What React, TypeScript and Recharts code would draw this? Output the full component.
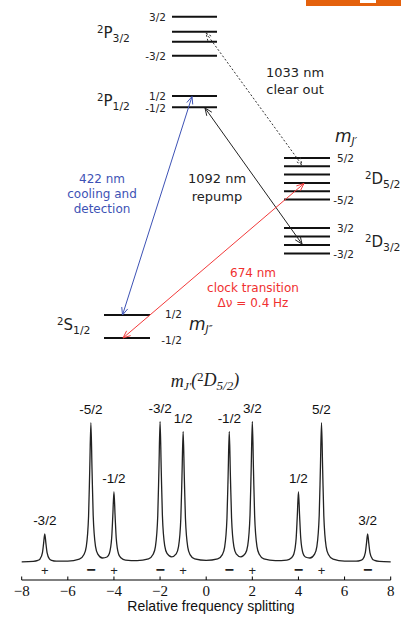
import React from 'react';
import { ComposedChart, Line, Scatter, XAxis, YAxis } from 'recharts';

// level diagram, drawn in a 401 x 360 box (y grows downward)
const p32Levels = [16.7, 31.7, 41.7, 55.7];
const p12Levels = [96, 107.3];
const d52Levels = [158, 166.3, 174.6, 183, 191.3, 199.6];
const d32Levels = [228, 236.5, 245, 253.5];
const s12Levels = [315, 338];

const pSpan = [172, 217];
const dSpan = [284, 330];
const sSpan = [104, 150];

const transitions = [
  { id: '422', from: [122.5, 315], to: [192, 96.5], color: '#3d52b5', dash: undefined },
  { id: '1092', from: [205, 108], to: [302, 244], color: '#222', dash: undefined },
  { id: '674', from: [123, 338], to: [304, 183.5], color: '#f23a3a', dash: undefined },
  { id: '1033', from: [206, 33], to: [302, 165], color: '#333', dash: '2 2' },
];

// spectrum: relative frequency vs signal
const curve: [number, number][] = [
  [-8, 0.2], [-7.5, 0.6], [-7.3, 1.6], [-7.2, 3.2], [-7.1, 9.4], [-7.05, 18.6], [-7, 28.2],
  [-6.95, 18.6], [-6.9, 9.4], [-6.8, 3.2], [-6.7, 1.7], [-6.5, 0.9], [-6, 0.9], [-5.5, 2.8],
  [-5.3, 7.5], [-5.2, 15.4], [-5.1, 46], [-5.05, 92], [-5, 139.3], [-4.95, 92], [-4.9, 46.4],
  [-4.8, 15.7], [-4.7, 7.9], [-4.5, 4], [-4.3, 5], [-4.2, 8.5], [-4.1, 23.7], [-4.05, 46],
  [-4, 70.3], [-3.95, 46], [-3.9, 23.5], [-3.8, 8], [-3.7, 4.2], [-3.5, 1.9], [-3, 1.4],
  [-2.5, 3.1], [-2.3, 7.7], [-2.2, 15.7], [-2.1, 46.6], [-2.05, 92.4], [-2, 140.5],
  [-1.95, 92.5], [-1.9, 47], [-1.8, 16.3], [-1.7, 8.6], [-1.5, 5.2], [-1.3, 8.2], [-1.2, 15.3],
  [-1.1, 43.8], [-1.05, 85.8], [-1, 130.5], [-0.95, 85.8], [-0.9, 43.7], [-0.8, 14.9],
  [-0.7, 7.4], [-0.5, 3.1], [0, 1.6], [0.5, 3.1], [0.7, 7.4], [0.8, 14.9], [0.9, 43.7],
  [0.95, 85.8], [1, 130.5], [1.05, 85.8], [1.1, 43.8], [1.2, 15.3], [1.3, 8.2], [1.5, 5.2],
  [1.7, 8.6], [1.8, 16.3], [1.9, 47], [1.95, 92.5], [2, 140.5], [2.05, 92.4], [2.1, 46.6],
  [2.2, 15.7], [2.3, 7.7], [2.5, 3.1], [3, 1.4], [3.5, 1.9], [3.7, 4.2], [3.8, 8], [3.9, 23.5],
  [3.95, 46], [4, 70.3], [4.05, 46], [4.1, 23.7], [4.2, 8.5], [4.3, 5], [4.5, 4], [4.7, 7.9],
  [4.8, 15.7], [4.9, 46.4], [4.95, 92], [5, 139.3], [5.05, 92], [5.1, 46], [5.2, 15.4],
  [5.3, 7.5], [5.5, 2.8], [6, 0.9], [6.5, 0.9], [6.7, 1.7], [6.8, 3.2], [6.9, 9.4],
  [6.95, 18.6], [7, 28.2], [7.05, 18.6], [7.1, 9.4], [7.2, 3.2], [7.3, 1.6], [7.5, 0.6], [8, 0.2],
];

const peakPos = [-7, -5, -4, -2, -1, 1, 2, 4, 5, 7];
const peakHeight = [28.2, 139.3, 70.3, 140.5, 130.5, 130.5, 140.5, 70.3, 139.3, 28.2];
const peakLabels = ['-3/2', '-5/2', '-1/2', '-3/2', '1/2', '-1/2', '3/2', '1/2', '5/2', '3/2'];
const peakSigns = ['+', '−', '+', '−', '+', '−', '+', '−', '+', '−'];
const xTicks = [-8, -6, -4, -2, 0, 2, 4, 6, 8];

const curveData = curve.map(([x, y]) => ({ x, y }));
const peakData = peakPos.map((x, i) => ({ x, y: peakHeight[i], label: peakLabels[i] }));
const signData = peakPos.map((x, i) => ({ x, y: -8, sign: peakSigns[i] }));

function arrowHead(tip: number[], tail: number[], len = 8, ang = 0.4) {
  const dx = tail[0] - tip[0];
  const dy = tail[1] - tip[1];
  const d = Math.hypot(dx, dy);
  const ux = dx / d, uy = dy / d;
  const wing = (a: number) => ({
    x: tip[0] + len * (ux * Math.cos(a) - uy * Math.sin(a)),
    y: tip[1] + len * (ux * Math.sin(a) + uy * Math.cos(a)),
  });
  return [wing(ang), { x: tip[0], y: tip[1] }, wing(-ang)];
}

const levelLines = [
  ...p32Levels.map((y) => ({ y, span: pSpan })),
  ...p12Levels.map((y) => ({ y, span: pSpan })),
  ...d52Levels.map((y) => ({ y, span: dSpan })),
  ...d32Levels.map((y) => ({ y, span: dSpan })),
  ...s12Levels.map((y) => ({ y, span: sSpan })),
];

const Txt = ({ x, y, a = 'c', size = 13, color = '#222', italic = false, font = 'DejaVu Sans', children }: any) => {
  const tx = a === 'c' ? '-50%' : a === 'r' ? '-100%' : '0';
  return (
    <div
      style={{
        position: 'absolute', left: x, top: y, transform: `translate(${tx}, -50%)`,
        fontSize: size, color, fontStyle: italic ? 'italic' : 'normal', fontFamily: font,
        lineHeight: 1, whiteSpace: 'nowrap',
      }}
    >
      {children}
    </div>
  );
};

const Term = ({ l, j }: { l: string; j: string }) => (
  <span>
    <span style={{ fontSize: '0.68em', verticalAlign: '0.5em' }}>2</span>
    {l}
    <span style={{ fontSize: '0.72em', verticalAlign: '-0.32em' }}>{j}</span>
  </span>
);

const MJ = ({ primes }: { primes: string }) => (
  <span>
    m<span style={{ fontSize: '0.62em', verticalAlign: '-0.3em' }}>J{primes}</span>
  </span>
);

const AxisTick = ({ x, y, payload }: any) => (
  <g>
    <line x1={x} x2={x} y1={y} y2={y - 3.5} stroke="#000" strokeWidth={1} />
    <text x={x} y={y + 16} textAnchor="middle" fontFamily="Liberation Serif" fontSize={15} fill="#111">
      {String(payload.value).replace('-', '−')}
    </text>
  </g>
);

export default function App() {
  return (
    <div style={{ position: 'absolute', left: 0, top: 0, width: 401, height: 620, background: '#fff', overflow: 'hidden', fontFamily: 'DejaVu Sans' }}>
      <div style={{ position: 'absolute', left: 306, top: 0, width: 95, height: 6, background: '#e4610d' }} />
      <div style={{ position: 'absolute', left: 360, top: 0, width: 16, height: 3, background: '#fff' }} />

      <div style={{ position: 'absolute', left: 0, top: 0 }}>
        <ComposedChart width={401} height={360} margin={{ top: 0, right: 0, bottom: 0, left: 0 }}>
          <XAxis type="number" dataKey="x" domain={[0, 401]} allowDataOverflow hide />
          <YAxis type="number" domain={[0, 360]} reversed allowDataOverflow hide />
          {levelLines.map((lv, i) => (
            <Line
              key={`lv-${i}`}
              data={[{ x: lv.span[0], y: lv.y }, { x: lv.span[1], y: lv.y }]}
              dataKey="y"
              type="linear"
              stroke="#111"
              strokeWidth={2}
              dot={false}
              activeDot={false}
              isAnimationActive={false}
            />
          ))}
          {transitions.map((t) => (
            <Line
              key={`tr-${t.id}`}
              data={[{ x: t.from[0], y: t.from[1] }, { x: t.to[0], y: t.to[1] }]}
              dataKey="y"
              type="linear"
              stroke={t.color}
              strokeWidth={1}
              strokeDasharray={t.dash}
              dot={false}
              activeDot={false}
              isAnimationActive={false}
            />
          ))}
          {transitions.flatMap((t) => [
            <Line
              key={`ha-${t.id}`}
              data={arrowHead(t.to, t.from)}
              dataKey="y"
              type="linear"
              stroke={t.color}
              strokeWidth={1}
              strokeDasharray={t.dash}
              dot={false}
              activeDot={false}
              isAnimationActive={false}
            />,
            <Line
              key={`hb-${t.id}`}
              data={arrowHead(t.from, t.to)}
              dataKey="y"
              type="linear"
              stroke={t.color}
              strokeWidth={1}
              strokeDasharray={t.dash}
              dot={false}
              activeDot={false}
              isAnimationActive={false}
            />,
          ])}
        </ComposedChart>
      </div>

      {/* level labels */}
      <Txt x={166} y={16.7} a="r" size={10.5}>3/2</Txt>
      <Txt x={166} y={55.7} a="r" size={10.5}>-3/2</Txt>
      <Txt x={166} y={95.5} a="r" size={10.5}>1/2</Txt>
      <Txt x={166} y={107.5} a="r" size={10.5}>-1/2</Txt>
      <Txt x={354} y={158} a="r" size={10.5}>5/2</Txt>
      <Txt x={354} y={200} a="r" size={10.5}>-5/2</Txt>
      <Txt x={354} y={228} a="r" size={10.5}>3/2</Txt>
      <Txt x={354} y={254} a="r" size={10.5}>-3/2</Txt>
      <Txt x={182} y={314} a="r" size={10.5}>1/2</Txt>
      <Txt x={182} y={340} a="r" size={10.5}>-1/2</Txt>

      <Txt x={97} y={35} a="l" size={15}><Term l="P" j="3/2" /></Txt>
      <Txt x={97} y={103} a="l" size={15}><Term l="P" j="1/2" /></Txt>
      <Txt x={365} y={181} a="l" size={15}><Term l="D" j="5/2" /></Txt>
      <Txt x={365} y={244} a="l" size={15}><Term l="D" j="3/2" /></Txt>
      <Txt x={57} y={327} a="l" size={15}><Term l="S" j="1/2" /></Txt>
      <Txt x={335} y={137} a="l" size={17} italic><MJ primes="′" /></Txt>
      <Txt x={189} y={325} a="l" size={17} italic><MJ primes="″" /></Txt>

      <Txt x={295} y={72}>1033 nm</Txt>
      <Txt x={295} y={89}>clear out</Txt>
      <Txt x={217} y={178}>1092 nm</Txt>
      <Txt x={217} y={196}>repump</Txt>
      <Txt x={102} y={179} size={12} color="#3d52b5">422 nm</Txt>
      <Txt x={102} y={194} size={12} color="#3d52b5">cooling and</Txt>
      <Txt x={102} y={208.5} size={12} color="#3d52b5">detection</Txt>
      <Txt x={253} y={273} size={12} color="#f03030">674 nm</Txt>
      <Txt x={253} y={288} size={12} color="#f03030">clock transition</Txt>
      <Txt x={253} y={303} size={12} color="#f03030">Δν = 0.4 Hz</Txt>

      {/* spectrum */}
      <Txt x={205} y={382} size={18} italic font="Liberation Serif">
        <MJ primes="′" />(<span style={{ fontSize: '0.7em', verticalAlign: '0.45em', fontStyle: 'normal' }}>2</span>D
        <span style={{ fontSize: '0.72em', verticalAlign: '-0.3em' }}>5/2</span>)
      </Txt>

      <div style={{ position: 'absolute', left: 0, top: 360 }}>
        <ComposedChart width={401} height={260} margin={{ top: 12, right: 10.3, bottom: 0, left: 21.7 }}>
          <XAxis
            type="number"
            dataKey="x"
            domain={[-8, 8]}
            ticks={xTicks}
            height={40}
            tickSize={0}
            tickMargin={0}
            tickLine={false}
            axisLine={{ stroke: '#000', strokeWidth: 1 }}
            tick={<AxisTick />}
            interval={0}
          />
          <YAxis type="number" domain={[-18, 190]} hide />
          <Line
            data={curveData}
            dataKey="y"
            type="monotone"
            stroke="#222"
            strokeWidth={1.3}
            dot={false}
            activeDot={false}
            isAnimationActive={false}
          />
          <Scatter
            data={peakData}
            dataKey="y"
            isAnimationActive={false}
            shape={(p: any) => (
              <text x={p.cx} y={p.cy - 9} textAnchor="middle" fontFamily="Liberation Sans" fontSize={13.5} fill="#111">
                {p.payload.label}
              </text>
            )}
          />
          <Scatter
            data={signData}
            dataKey="y"
            isAnimationActive={false}
            shape={(p: any) => (
              <text
                x={p.cx}
                y={p.cy + (p.payload.sign === '+' ? 4.5 : 5)}
                textAnchor="middle"
                fontFamily="Liberation Sans"
                fontSize={p.payload.sign === '+' ? 13 : 16}
                fontWeight={p.payload.sign === '+' ? 400 : 700}
                fill="#222"
              >
                {p.payload.sign}
              </text>
            )}
          />
        </ComposedChart>
      </div>

      <Txt x={211} y={606} size={14} font="Liberation Sans" color="#111">Relative frequency splitting</Txt>
    </div>
  );
}
